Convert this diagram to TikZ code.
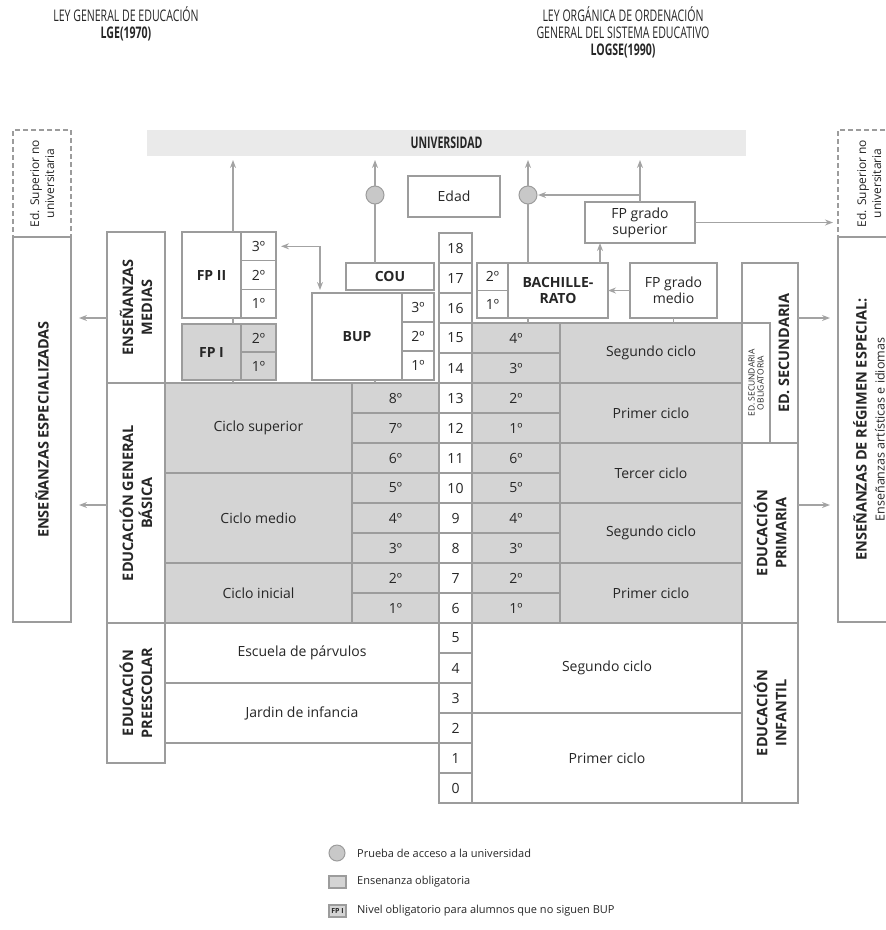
\documentclass[tikz,border=0pt]{standalone}
\usepackage{fontspec}
\setmainfont{Open Sans}
\newfontfamily\headfont[FakeStretch=0.66]{Open Sans}
\usetikzlibrary{arrows.meta}
\definecolor{linegray}{HTML}{9C9C9C}
\definecolor{oblgray}{HTML}{D4D4D4}
\definecolor{unigray}{HTML}{EAEAEA}
\definecolor{arrowgray}{HTML}{A3A3A3}
\definecolor{dotgray}{HTML}{C8C8C8}
\definecolor{textgray}{HTML}{262626}

\begin{document}
\begin{tikzpicture}[x=1pt, y=-1pt]
% Styles
\tikzset{
    cell/.style={draw=linegray, line width=1.1pt, fill=white, inner sep=0pt, outer sep=0pt,
        align=center, text=textgray, font=\fontsize{14}{16}\selectfont},
    obl/.style={cell, fill=oblgray},
    bcell/.style={cell, font=\bfseries\fontsize{14}{16}\selectfont},
    oblb/.style={obl, font=\bfseries\fontsize{14}{16}\selectfont},
    vlabel/.style={rotate=90, align=center, inner sep=0pt, text=textgray,
        font=\bfseries\fontsize{14.5}{19}\selectfont},
    dashbox/.style={cell, dash pattern=on 5pt off 3pt},
    agecell/.style={cell, minimum width=33, minimum height=30},
    lgeyear/.style={obl, minimum width=87, minimum height=30},
    logseyear/.style={obl, minimum width=88, minimum height=30},
    dot/.style={circle, draw=linegray, line width=1pt, fill=dotgray, minimum size=18,
        inner sep=0pt, outer sep=0pt},
    link/.style={draw=arrowgray, line width=1.4pt},
    flow/.style={link, -{Stealth[length=8pt, width=6pt]}},
    legtext/.style={anchor=west, inner sep=0pt, text=textgray, font=\fontsize{11}{13}\selectfont}
}
\useasboundingbox (0,0) rectangle (886,930);

% Headers
\node[align=center, text=textgray, font=\headfont\fontsize{16}{17}\selectfont] (LGEt) at (126,24)
    {LEY GENERAL DE EDUCACIÓN\\\textbf{LGE(1970)}};
\node[align=center, text=textgray, font=\headfont\fontsize{16}{17}\selectfont] (LOGSEt) at (623,32)
    {LEY ORGÁNICA DE ORDENACIÓN\\GENERAL DEL SISTEMA EDUCATIVO\\\textbf{LOGSE(1990)}};

% Universidad
\node[cell, draw=none, fill=unigray, minimum width=599, minimum height=26,
    font=\headfont\bfseries\fontsize{16}{16}\selectfont] (UNI) at (446.5,143) {UNIVERSIDAD};

% Side boxes
\node[dashbox, minimum width=58, minimum height=107] (EDSL) at (42,183.5) {};
\node[vlabel, font=\fontsize{12}{15}\selectfont] (EDSLt) at (EDSL.center) {Ed. Superior no\\universitaria};
\node[cell, minimum width=58, minimum height=385] (EE) at (42,429.5) {};
\node[vlabel] (EEt) at (EE.center) {ENSEÑANZAS ESPECIALIZADAS};
\node[dashbox, minimum width=62, minimum height=107] (EDSR) at (869,183.5) {};
\node[vlabel, font=\fontsize{12}{15}\selectfont] (EDSRt) at (EDSR.center) {Ed. Superior no\\universitaria};
\node[cell, minimum width=62, minimum height=385] (ERE) at (869,429.5) {};
\node[vlabel, font=\fontsize{12.5}{18}\selectfont] (EREt) at (ERE.center)
    {{\bfseries\fontsize{14.5}{18}\selectfont ENSEÑANZAS DE RÉGIMEN ESPECIAL:}\\Enseñanzas artísticas e idiomas};

% LGE labels
\node[cell, minimum width=58, minimum height=151] (EM) at (136,307.5) {};
\node[vlabel] (EMt) at (EM.center) {ENSEÑANZAS\\MEDIAS};
\node[cell, minimum width=58, minimum height=240] (EGB) at (136,503) {};
\node[vlabel] (EGBt) at (EGB.center) {EDUCACIÓN GENERAL\\BÁSICA};
\node[cell, minimum width=58, minimum height=140] (PRE) at (136,693) {};
\node[vlabel] (PREt) at (PRE.center) {EDUCACIÓN\\PREESCOLAR};

% LGE FP, BUP, COU
\node[bcell, minimum width=59, minimum height=86] (FP2) at (211.5,275) {FP II};
\node[cell, minimum width=35, minimum height=28.67] (F3) at (258.5,246.3) {3º};
\node[cell, minimum width=35, minimum height=28.67] (F2) at (258.5,275) {2º};
\node[cell, minimum width=35, minimum height=28.67] (F1) at (258.5,303.7) {1º};
\node[oblb, minimum width=59, minimum height=56] (FP1) at (211.5,352) {FP I};
\node[obl, minimum width=35, minimum height=28] (G2) at (258.5,338) {2º};
\node[obl, minimum width=35, minimum height=28] (G1) at (258.5,366) {1º};
\node[bcell, minimum width=90, minimum height=87] (BUP) at (357,336.5) {BUP};
\node[cell, minimum width=32, minimum height=29] (B3) at (418,307.5) {3º};
\node[cell, minimum width=32, minimum height=29] (B2) at (418,336.5) {2º};
\node[cell, minimum width=32, minimum height=29] (B1) at (418,365.5) {1º};
\node[bcell, minimum width=88, minimum height=27] (COU) at (390,276.5) {COU};
\node[cell, minimum width=92, minimum height=41] (EDAD) at (454,196.5) {Edad};
\node[dot] (circL) at (375,195) {};
\node[dot] (circR) at (528,195) {};

% LGE EGB
\node[obl, minimum width=187, minimum height=90] (CS) at (258.5,428) {Ciclo superior};
\node[obl, minimum width=187, minimum height=90] (CM) at (258.5,518) {Ciclo medio};
\node[obl, minimum width=187, minimum height=60] (CI) at (258.5,593) {Ciclo inicial};
\node[lgeyear] (L8) at (395.5,398) {8º};
\node[lgeyear] (L7) at (395.5,428) {7º};
\node[lgeyear] (L6) at (395.5,458) {6º};
\node[lgeyear] (L5) at (395.5,488) {5º};
\node[lgeyear] (L4) at (395.5,518) {4º};
\node[lgeyear] (L3) at (395.5,548) {3º};
\node[lgeyear] (L2) at (395.5,578) {2º};
\node[lgeyear] (L1) at (395.5,608) {1º};

% LGE preescolar
\node[cell, minimum width=274, minimum height=60] (ESC) at (302,653) {Escuela de párvulos};
\node[cell, minimum width=274, minimum height=60] (JAR) at (302,713) {Jardin de infancia};

% Ages
\node[agecell] (A18) at (455.5,248) {18};
\node[agecell] (A17) at (455.5,278) {17};
\node[agecell] (A16) at (455.5,308) {16};
\node[agecell] (A15) at (455.5,338) {15};
\node[agecell] (A14) at (455.5,368) {14};
\node[agecell] (A13) at (455.5,398) {13};
\node[agecell] (A12) at (455.5,428) {12};
\node[agecell] (A11) at (455.5,458) {11};
\node[agecell] (A10) at (455.5,488) {10};
\node[agecell] (A9) at (455.5,518) {9};
\node[agecell] (A8) at (455.5,548) {8};
\node[agecell] (A7) at (455.5,578) {7};
\node[agecell] (A6) at (455.5,608) {6};
\node[agecell] (A5) at (455.5,638) {5};
\node[agecell] (A4) at (455.5,668) {4};
\node[agecell] (A3) at (455.5,698) {3};
\node[agecell] (A2) at (455.5,728) {2};
\node[agecell] (A1) at (455.5,758) {1};
\node[agecell] (A0) at (455.5,788) {0};

% LOGSE years and cycles
\node[logseyear] (R15) at (516,338) {4º};
\node[logseyear] (R14) at (516,368) {3º};
\node[logseyear] (R13) at (516,398) {2º};
\node[logseyear] (R12) at (516,428) {1º};
\node[logseyear] (R11) at (516,458) {6º};
\node[logseyear] (R10) at (516,488) {5º};
\node[logseyear] (R9) at (516,518) {4º};
\node[logseyear] (R8) at (516,548) {3º};
\node[logseyear] (R7) at (516,578) {2º};
\node[logseyear] (R6) at (516,608) {1º};
\node[obl, minimum width=182, minimum height=60] (C2) at (651,353) {Segundo ciclo};
\node[obl, minimum width=182, minimum height=60] (C1) at (651,413) {Primer ciclo};
\node[obl, minimum width=182, minimum height=60] (P3) at (651,473) {Tercer ciclo};
\node[obl, minimum width=182, minimum height=60] (P2) at (651,533) {Segundo ciclo};
\node[obl, minimum width=182, minimum height=60] (P1) at (651,593) {Primer ciclo};
\node[cell, minimum width=270, minimum height=90] (I2) at (607,668) {Segundo ciclo};
\node[cell, minimum width=270, minimum height=90] (I1) at (607,758) {Primer ciclo};

% LOGSE labels
\node[cell, minimum width=56, minimum height=180] (EDSEC) at (770,353) {};
\node[vlabel] (EDSECt) at (784,353) {ED. SECUNDARIA};
\node[cell, minimum width=28, minimum height=120] (ESO) at (756,383) {};
\node[vlabel, font=\fontsize{8.5}{9}\selectfont] (ESOt) at (ESO.center) {ED. SECUNDARIA\\OBLIGATORIA};
\node[cell, minimum width=56, minimum height=180] (EP) at (770,533) {};
\node[vlabel] (EPt) at (EP.center) {EDUCACIÓN\\PRIMARIA};
\node[cell, minimum width=56, minimum height=180] (EI) at (770,713) {};
\node[vlabel] (EIt) at (EI.center) {EDUCACIÓN\\INFANTIL};

% LOGSE bachillerato and FP
\node[cell, minimum width=31, minimum height=27.5] (H2) at (492.5,276.75) {2º};
\node[cell, minimum width=31, minimum height=27.5] (H1) at (492.5,304.25) {1º};
\node[bcell, minimum width=100, minimum height=55] (BACH) at (558,290.5) {BACHILLE-\\RATO};
\node[cell, minimum width=87, minimum height=55] (FPGM) at (673.5,290.5) {FP grado\\medio};
\node[cell, minimum width=110, minimum height=41] (FPGS) at (640,222.5) {FP grado\\superior};

% Connections
\draw[flow, shorten >=4pt] (FP2.north -| 233,0) -- (UNI.south -| 233,0);
\draw[link] (FP2.south -| 233,0) -- (FP1.north -| 233,0);
\draw[link] (FP1.south -| 233,0) -- (CS.north -| 233,0);
\draw[link, {Stealth[length=8pt, width=6pt]}-{Stealth[length=8pt, width=6pt]}, shorten <=5pt, shorten >=3pt]
    (F3.east) -| (BUP.north -| 320,0);
\draw[link] (BUP.south -| circL) -- (L8.north -| circL);
\draw[link] (COU.north -| circL) -- (circL.south);
\draw[flow, shorten >=4pt] (circL.north) -- (circL |- UNI.south);
\draw[link] (BACH.north -| circR) -- (circR.south);
\draw[flow, shorten >=4pt] (circR.north) -- (circR |- UNI.south);
\draw[link] (BACH.south -| circR) -- (R15.north -| circR);
\draw[link] (FPGM.south) -- (FPGM.south |- C2.north);
\draw[flow, shorten >=4pt] (FPGS.north) -- (FPGS.north |- UNI.south);
\draw[flow, shorten >=1pt] (FPGS.north |- circR) -- (circR.east);
\draw[flow] (BACH.north -| 600,0) -- (FPGS.south -| 600,0);
\draw[flow] (FPGM.west) -- (BACH.east);
\draw[flow, shorten >=5pt] (FPGS.east) -- (FPGS.east -| EDSR.west);
\draw[flow, shorten >=8pt] (EM.west |- 0,318) -- (EE.east |- 0,318);
\draw[flow, shorten >=8pt] (EGB.west |- 0,505) -- (EE.east |- 0,505);
\draw[flow, shorten >=8pt] (EDSEC.east |- 0,318) -- (ERE.west |- 0,318);
\draw[flow, shorten >=8pt] (EP.east |- 0,505) -- (ERE.west |- 0,505);

% Legend
\node[dot, minimum size=16] (legP) at (337,853) {};
\node[legtext] (legPt) at (357,853) {Prueba de acceso a la universidad};
\node[obl, minimum width=17, minimum height=12] (legO) at (337.5,882) {};
\node[legtext] (legOt) at (357,882) {Ensenanza obligatoria};
\node[obl, minimum width=17, minimum height=12, font=\bfseries\fontsize{7}{8}\selectfont] (legF) at (337.5,911) {FP I};
\node[legtext] (legFt) at (357,911) {Nivel obligatorio para alumnos que no siguen BUP};
\end{tikzpicture}
\end{document}
